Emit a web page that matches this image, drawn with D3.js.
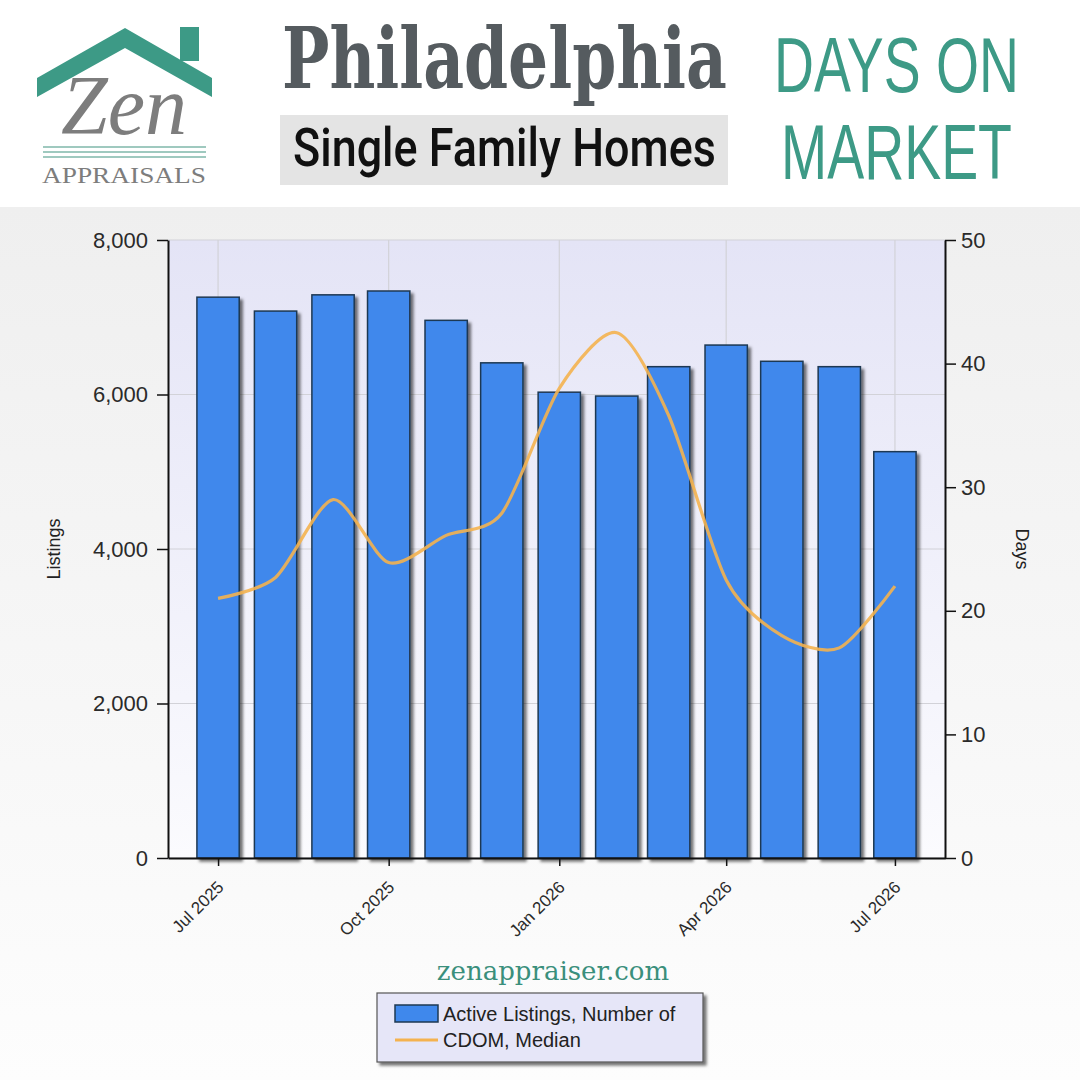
<!DOCTYPE html>
<html>
<head>
<meta charset="utf-8">
<script src="https://cdn.jsdelivr.net/npm/d3@7"></script>
<style>
  html, body { margin: 0; padding: 0; background: #fff; }
  #chart { width: 1080px; height: 1080px; }
</style>
</head>
<body>
<div id="chart"></div>
<script>
// Philadelphia – Single Family Homes – Days on Market
const MONTHS   = ["2025-07","2025-08","2025-09","2025-10","2025-11","2025-12",
                  "2026-01","2026-02","2026-03","2026-04","2026-05","2026-06","2026-07"];
const LISTINGS = [7260, 7080, 7290, 7340, 6960, 6410, 6030, 5980, 6360, 6640, 6430, 6360, 5260];
const CDOM     = [21.0, 22.7, 29.0, 23.9, 26.1, 27.9, 38.0, 42.5, 35.8, 22.5, 18.0, 17.0, 22.0];
const LEFT_TICKS  = [0, 2000, 4000, 6000, 8000];
const RIGHT_TICKS = [0, 10, 20, 30, 40, 50];
const X_TICKS  = ["2025-07","2025-10","2026-01","2026-04","2026-07"];
const LEGEND   = ["Active Listings, Number of", "CDOM, Median"];

const TEAL = "#3d9a86";
const AXIS_FONT = "'Liberation Sans', Arial, sans-serif";
const parseMonth = d3.timeParse("%Y-%m");
const fmtMonth = d3.timeFormat("%b %Y");

const W = 1080, H = 1080;
const margin = { top: 240, right: 135, bottom: 222, left: 168 };

const svg = d3.select("#chart").append("svg")
  .attr("width", W).attr("height", H);

/* helper: squeeze a text horizontally so it spans `width` px from (x, y) */
function fitText(sel, x, y, width){
  const w = sel.node().getComputedTextLength() || width;
  sel.attr("x", 0).attr("y", 0)
     .attr("transform", `translate(${x},${y}) scale(${width / w},1)`);
  return sel;
}

const defs = svg.append("defs");
const bgGrad = defs.append("linearGradient").attr("id", "bg").attr("x1", 0).attr("y1", 0).attr("x2", 0).attr("y2", 1);
bgGrad.append("stop").attr("offset", "0%").attr("stop-color", "#efefef");
bgGrad.append("stop").attr("offset", "100%").attr("stop-color", "#fdfdfd");
const plotGrad = defs.append("linearGradient").attr("id", "plotbg").attr("x1", 0).attr("y1", 0).attr("x2", 0).attr("y2", 1);
plotGrad.append("stop").attr("offset", "0%").attr("stop-color", "#e4e4f6");
plotGrad.append("stop").attr("offset", "100%").attr("stop-color", "#fbfbfe");
defs.append("filter").attr("id", "shadow").attr("x", "-10%").attr("y", "-10%").attr("width", "130%").attr("height", "130%")
  .append("feDropShadow").attr("dx", 3).attr("dy", 3).attr("stdDeviation", 1.5)
  .attr("flood-color", "#000").attr("flood-opacity", 0.55);

/* header */
svg.append("rect").attr("x", 0).attr("y", 0).attr("width", W).attr("height", 207).attr("fill", "#fff");
svg.append("rect").attr("x", 0).attr("y", 207).attr("width", W).attr("height", H - 207).attr("fill", "url(#bg)");

// logo
const logo = svg.append("g");
logo.append("rect").attr("x", 180).attr("y", 27).attr("width", 19).attr("height", 34).attr("fill", TEAL);
logo.append("path")
  .attr("d", "M37,78 L125,28 L212,78 L212,97 L125,48 L37,97 Z")
  .attr("fill", TEAL);
logo.append("text")
  .attr("x", 124).attr("y", 134).attr("text-anchor", "middle")
  .attr("font-family", "'Liberation Serif', 'DejaVu Serif', serif")
  .attr("font-style", "italic").attr("font-size", 84).attr("fill", "#7d7d7d")
  .text("Zen");
[147, 152, 157].forEach(yy => {
  logo.append("line").attr("x1", 43).attr("x2", 206).attr("y1", yy).attr("y2", yy)
    .attr("stroke", "#7fb7aa").attr("stroke-width", 1.4);
});
fitText(logo.append("text")
  .attr("font-family", "'Liberation Serif', 'DejaVu Serif', serif")
  .attr("font-size", 24).attr("fill", "#7d7d7d")
  .text("APPRAISALS"), 42, 183, 164);

// titles
fitText(svg.append("text")
  .attr("font-family", "'DejaVu Serif Condensed', 'Liberation Serif', serif")
  .attr("font-weight", "bold").attr("font-size", 84).attr("fill", "#555b5f")
  .text("Philadelphia"), 282, 88, 445);
svg.append("rect").attr("x", 280).attr("y", 115).attr("width", 448).attr("height", 70).attr("fill", "#e4e4e4");
fitText(svg.append("text")
  .attr("font-family", "Roboto, 'DejaVu Sans Condensed', sans-serif")
  .attr("font-weight", 500).attr("font-size", 54).attr("fill", "#111")
  .text("Single Family Homes"), 293, 166, 423);

// "DAYS ON / MARKET"
[["DAYS ON", 774, 92, 245], ["MARKET", 781, 179, 231]].forEach(([t, tx, ty, len]) => {
  fitText(svg.append("text")
    .attr("font-family", "'Liberation Sans', Arial, sans-serif")
    .attr("font-size", 77).attr("fill", TEAL)
    .text(t), tx, ty, len);
});

/* chart */
const dates = MONTHS.map(parseMonth);
const data = dates.map((d, i) => ({ date: d, listings: LISTINGS[i], cdom: CDOM[i] }));

const x = d3.scaleTime()
  .domain([d3.timeDay.offset(dates[0], -27), d3.timeDay.offset(dates[dates.length - 1], 27)])
  .range([margin.left, W - margin.right]);
const yL = d3.scaleLinear().domain([0, 8000]).range([H - margin.bottom, margin.top]);
const yR = d3.scaleLinear().domain([0, 50]).range([H - margin.bottom, margin.top]);
const barW = (x(dates[dates.length - 1]) - x(dates[0])) / (dates.length - 1) * 0.75;

svg.append("rect")
  .attr("x", margin.left).attr("y", margin.top)
  .attr("width", W - margin.left - margin.right).attr("height", H - margin.top - margin.bottom)
  .attr("fill", "url(#plotbg)");

// grid
const xTickDates = X_TICKS.map(parseMonth);
svg.append("g").selectAll("line")
  .data(xTickDates).join("line")
    .attr("x1", d => x(d)).attr("x2", d => x(d))
    .attr("y1", margin.top).attr("y2", H - margin.bottom)
    .attr("stroke", "#d2d2d8").attr("stroke-width", 1.2);
svg.append("g").selectAll("line")
  .data(LEFT_TICKS).join("line")
    .attr("x1", margin.left).attr("x2", W - margin.right)
    .attr("y1", d => yL(d)).attr("y2", d => yL(d))
    .attr("stroke", "#d2d2d8").attr("stroke-width", 1.2);

// bars
svg.append("g").selectAll("rect")
  .data(data).join("rect")
    .attr("x", d => x(d.date) - barW / 2)
    .attr("y", d => yL(d.listings))
    .attr("width", barW)
    .attr("height", d => yL(0) - yL(d.listings))
    .attr("fill", "#3f88ec")
    .attr("stroke", "#1e3852").attr("stroke-width", 1.5)
    .attr("filter", "url(#shadow)");

// line
svg.append("path")
  .datum(data)
  .attr("fill", "none")
  .attr("stroke", "#f4b24f").attr("stroke-width", 3.2).attr("stroke-opacity", 0.9)
  .attr("d", d3.line().x(d => x(d.date)).y(d => yR(d.cdom)).curve(d3.curveCardinal.tension(0.2)));

// axes
const styleAxis = g => {
  g.select(".domain").attr("stroke", "#111").attr("stroke-width", 2);
  g.selectAll(".tick line").attr("stroke", "#111").attr("stroke-width", 1.5);
  g.selectAll(".tick text").attr("font-family", AXIS_FONT).attr("fill", "#2a2a2a");
};

svg.append("g")
  .attr("transform", `translate(${margin.left},0)`)
  .call(d3.axisLeft(yL).tickValues(LEFT_TICKS).tickFormat(d3.format(",")).tickSize(11).tickSizeOuter(0).tickPadding(9))
  .call(styleAxis)
  .call(g => g.selectAll(".tick text").attr("font-size", 22));

svg.append("g")
  .attr("transform", `translate(${W - margin.right},0)`)
  .call(d3.axisRight(yR).tickValues(RIGHT_TICKS).tickSize(11).tickSizeOuter(0).tickPadding(5))
  .call(styleAxis)
  .call(g => g.selectAll(".tick text").attr("font-size", 22));

const gx = svg.append("g")
  .attr("transform", `translate(0,${H - margin.bottom})`)
  .call(d3.axisBottom(x).tickValues(xTickDates).tickFormat(fmtMonth).tickSize(8).tickSizeOuter(0))
  .call(styleAxis);
gx.selectAll(".tick text")
  .attr("font-size", 17)
  .attr("text-anchor", "end")
  .attr("transform", "translate(2,26) rotate(-45)")
  .attr("dy", "0.35em").attr("y", 0);

// axis titles
svg.append("text")
  .attr("transform", `translate(60,${(margin.top + H - margin.bottom) / 2}) rotate(-90)`)
  .attr("text-anchor", "middle")
  .attr("font-family", AXIS_FONT).attr("font-size", 18).attr("fill", "#222")
  .text("Listings");
svg.append("text")
  .attr("transform", `translate(1016,${(margin.top + H - margin.bottom) / 2}) rotate(90)`)
  .attr("text-anchor", "middle")
  .attr("font-family", AXIS_FONT).attr("font-size", 18).attr("fill", "#222")
  .text("Days");

// website
svg.append("text")
  .attr("x", 553).attr("y", 980).attr("text-anchor", "middle")
  .attr("font-family", "'DejaVu Serif', 'Liberation Serif', serif")
  .attr("font-size", 26).attr("fill", "#3a8f7c")
  .text("zenappraiser.com");

// legend
const lg = svg.append("g").attr("transform", "translate(377,993)");
lg.append("rect").attr("width", 326).attr("height", 69)
  .attr("fill", "#e6e6f8").attr("stroke", "#555").attr("stroke-width", 1.2)
  .attr("filter", "url(#shadow)");
lg.append("rect").attr("x", 18).attr("y", 12).attr("width", 43).attr("height", 17)
  .attr("fill", "#3f88ec").attr("stroke", "#1e3852").attr("stroke-width", 1.5);
lg.append("line").attr("x1", 18).attr("x2", 61).attr("y1", 47).attr("y2", 47)
  .attr("stroke", "#f4b24f").attr("stroke-width", 3);
lg.selectAll("text.leg")
  .data(LEGEND).join("text")
    .attr("class", "leg")
    .attr("x", 66).attr("y", (d, i) => 21 + i * 26)
    .attr("dy", "0.35em")
    .attr("font-family", AXIS_FONT).attr("font-size", 20).attr("fill", "#222")
    .text(d => d);
</script>
</body>
</html>
